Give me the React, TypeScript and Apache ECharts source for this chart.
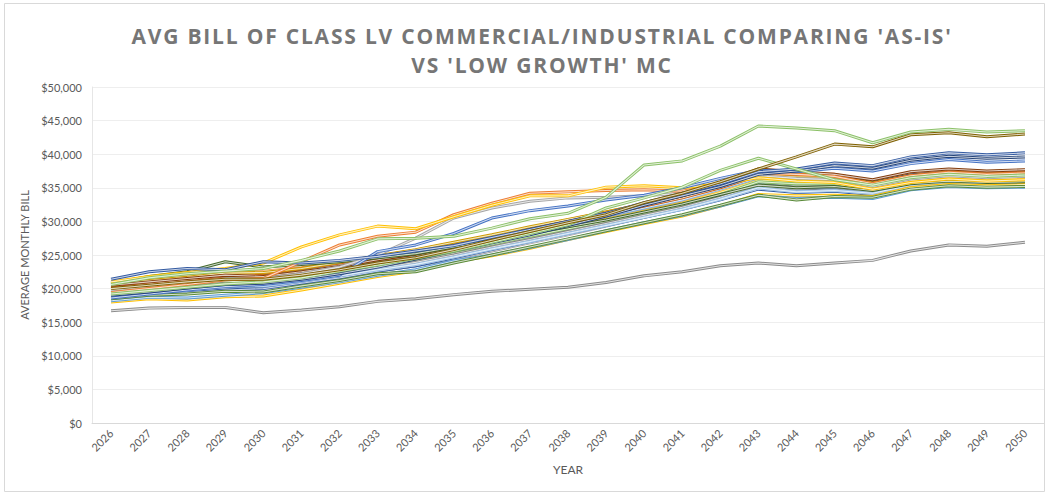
import React, { useEffect, useRef } from "react";
import * as echarts from "echarts";

// Years on the category axis
const years = [
  "2026", "2027", "2028", "2029", "2030", "2031", "2032", "2033", "2034", "2035",
  "2036", "2037", "2038", "2039", "2040", "2041", "2042", "2043", "2044", "2045",
  "2046", "2047", "2048", "2049", "2050",
];

// Monte Carlo runs, average monthly bill in $ thousands
const runLowGrey = [16.7, 17.1, 17.2, 17.2, 16.4, 16.8, 17.3, 18.1, 18.5, 19.1, 19.6, 19.9, 20.2, 20.9, 21.9, 22.5, 23.4, 23.8, 23.4, 23.8, 24.2, 25.6, 26.5, 26.3, 26.9];
const runGreenTop = [20.6, 21.6, 22.2, 22.6, 23.0, 24.2, 25.6, 27.4, 27.5, 27.8, 29.0, 30.4, 31.2, 33.6, 38.4, 39.0, 41.2, 44.2, 43.9, 43.5, 41.7, 43.3, 43.7, 43.3, 43.5];
const runBrown = [20.0, 20.5, 21.0, 21.4, 21.4, 22.0, 22.8, 23.8, 24.6, 25.8, 27.2, 28.5, 29.8, 31.0, 32.8, 34.2, 35.9, 37.8, 39.6, 41.5, 41.1, 42.9, 43.2, 42.6, 43.0];
const runYellowHigh = [21.0, 21.8, 22.4, 23.0, 23.8, 26.2, 28.0, 29.3, 28.9, 30.7, 32.4, 33.8, 33.8, 35.1, 35.3, 35.0, 35.6, 36.5, 36.0, 35.8, 34.8, 35.8, 36.3, 36.0, 36.2];
const runOrangeHigh = [19.4, 20.0, 20.6, 21.3, 21.5, 24.0, 26.5, 27.8, 28.4, 31.0, 32.7, 34.2, 34.4, 34.6, 34.7, 34.5, 35.4, 37.2, 37.0, 36.7, 35.6, 36.8, 37.3, 37.0, 37.2];
const runGreyHigh = [19.8, 20.3, 20.8, 21.4, 21.5, 22.2, 23.2, 25.0, 27.5, 30.5, 32.0, 33.0, 33.5, 33.6, 33.8, 34.2, 35.2, 36.8, 36.4, 36.2, 35.2, 36.3, 36.8, 36.5, 36.7];
const runBlueA = [21.4, 22.5, 23.0, 22.8, 24.0, 23.8, 24.2, 24.8, 25.6, 26.4, 27.6, 28.8, 30.0, 31.2, 32.8, 34.2, 35.6, 37.4, 37.8, 38.7, 38.3, 39.6, 40.2, 39.9, 40.2];
const runBlueB = [19.0, 19.5, 20.1, 20.6, 20.8, 21.4, 22.2, 23.2, 24.4, 25.6, 26.8, 28.0, 29.4, 30.8, 32.4, 33.8, 35.2, 37.0, 37.5, 38.3, 37.9, 39.1, 39.7, 39.4, 39.6];
const runBlueC = [18.6, 19.2, 19.8, 20.3, 20.6, 21.2, 22.0, 25.5, 26.5, 28.2, 30.5, 31.6, 32.3, 33.2, 33.9, 35.0, 36.4, 37.6, 37.4, 37.9, 37.5, 38.6, 39.2, 38.8, 39.0];
const runGreenPeak = [19.2, 19.7, 20.2, 20.7, 21.0, 21.6, 22.6, 23.5, 24.5, 25.6, 26.9, 28.2, 29.5, 32.0, 33.5, 35.1, 37.6, 39.4, 37.8, 36.2, 35.4, 36.5, 37.0, 36.7, 36.9];
const runDarkGreen = [20.8, 21.8, 22.5, 24.0, 23.2, 23.6, 24.0, 24.6, 25.2, 26.2, 27.2, 28.2, 29.2, 30.2, 31.4, 32.6, 34.0, 35.4, 35.0, 35.2, 34.6, 35.6, 36.0, 35.8, 35.9];
const runYellowLow = [18.0, 18.5, 18.3, 18.8, 18.9, 19.8, 20.8, 21.8, 22.6, 24.0, 24.9, 26.0, 27.3, 28.5, 29.7, 30.8, 32.3, 34.0, 33.8, 33.9, 33.7, 35.0, 35.5, 35.3, 35.5];
const runTealLow = [18.2, 18.7, 18.6, 19.0, 19.4, 20.2, 21.0, 22.0, 22.8, 24.1, 25.0, 26.1, 27.3, 28.6, 29.8, 30.9, 32.3, 33.8, 33.4, 33.6, 33.4, 34.7, 35.2, 35.0, 35.1];
const runGreenLow = [18.5, 19.0, 19.2, 19.6, 19.5, 20.4, 21.2, 22.2, 22.5, 23.8, 25.0, 26.2, 27.4, 28.6, 29.8, 31.0, 32.4, 33.9, 33.2, 33.7, 33.6, 34.8, 35.3, 35.1, 35.2];
const run01 = [19.5, 19.9, 20.4, 20.9, 20.2, 20.8, 21.6, 22.6, 23.4, 24.6, 25.9, 27.1, 28.3, 29.6, 30.9, 32.1, 33.7, 35.6, 35.2, 35.4, 34.5, 35.7, 36.2, 35.9, 36.1];
const run02 = [19.9, 20.4, 20.9, 21.5, 21.6, 22.2, 23.0, 24.2, 25.2, 26.4, 27.8, 29.0, 30.2, 31.4, 32.6, 33.8, 35.4, 37.4, 37.1, 37.0, 36.0, 37.2, 37.7, 37.4, 37.6];
const run03 = [18.8, 19.4, 20.0, 20.6, 21.0, 21.3, 21.8, 22.6, 23.4, 24.4, 25.6, 26.8, 28.0, 29.3, 30.6, 31.9, 33.5, 35.4, 35.2, 35.4, 34.5, 35.7, 36.1, 35.9, 36.0];
const run04 = [19.2, 19.6, 20.1, 20.7, 20.8, 21.4, 22.2, 23.0, 23.9, 25.0, 26.2, 27.4, 28.6, 29.8, 31.0, 32.2, 33.8, 35.8, 35.5, 35.6, 34.8, 35.9, 36.4, 36.1, 36.2];
const run05 = [20.2, 20.7, 21.2, 21.8, 21.9, 22.4, 23.2, 24.0, 24.9, 26.0, 27.2, 28.4, 29.6, 30.7, 31.9, 33.1, 34.7, 36.7, 36.3, 36.4, 35.5, 36.6, 37.1, 36.8, 37.0];
const run06 = [19.6, 20.1, 20.7, 21.2, 21.2, 21.9, 22.6, 23.5, 24.3, 25.4, 26.7, 27.9, 29.0, 30.2, 31.4, 32.6, 34.2, 36.2, 35.8, 36.0, 35.0, 36.2, 36.7, 36.4, 36.5];
const run07 = [20.4, 21.0, 21.6, 22.2, 22.0, 22.6, 23.4, 24.4, 25.3, 26.6, 27.8, 28.9, 30.0, 31.2, 32.4, 33.6, 35.1, 36.9, 36.6, 36.7, 35.8, 36.9, 37.3, 37.0, 37.2];
const run08 = [20.0, 20.5, 21.1, 21.6, 21.7, 22.3, 23.1, 24.0, 24.8, 25.9, 27.0, 28.1, 29.3, 30.5, 31.8, 33.0, 34.5, 36.4, 36.0, 36.2, 35.3, 36.4, 36.9, 36.6, 36.8];
const run09 = [18.9, 19.5, 20.0, 20.4, 20.3, 21.0, 21.8, 22.9, 23.8, 25.0, 26.2, 27.4, 28.5, 29.7, 30.9, 32.1, 33.5, 35.2, 34.8, 35.0, 34.2, 35.4, 35.9, 35.6, 35.8];
const run10 = [20.6, 21.1, 21.6, 22.1, 22.2, 22.9, 23.8, 24.8, 25.6, 26.6, 27.7, 28.8, 29.9, 31.0, 32.2, 33.4, 34.9, 36.6, 36.2, 36.3, 35.4, 36.5, 37.0, 36.7, 36.9];
const run11 = [19.7, 20.2, 20.7, 21.1, 21.4, 22.0, 22.9, 23.8, 24.6, 25.6, 26.8, 27.9, 29.0, 30.1, 31.3, 32.5, 34.0, 35.8, 35.5, 35.6, 34.7, 35.8, 36.3, 36.0, 36.1];
const run12 = [19.4, 19.9, 20.4, 20.9, 21.0, 21.7, 22.4, 23.3, 24.1, 25.2, 26.4, 27.5, 28.6, 29.8, 31.1, 32.3, 33.9, 35.7, 35.3, 35.4, 34.4, 35.5, 36.0, 35.7, 35.9];
const run13 = [19.3, 19.7, 20.2, 20.6, 20.9, 21.5, 22.3, 23.6, 24.6, 25.8, 27.0, 28.0, 29.1, 30.3, 31.5, 32.6, 34.0, 35.5, 35.0, 35.1, 34.2, 35.3, 35.8, 35.5, 35.7];
const run14 = [20.9, 21.5, 21.9, 22.4, 22.6, 23.1, 23.9, 24.7, 25.5, 26.6, 27.6, 28.6, 29.7, 30.8, 32.0, 33.2, 34.6, 36.3, 36.0, 36.1, 35.2, 36.3, 36.8, 36.5, 36.6];
const run15 = [19.1, 19.6, 20.2, 20.8, 20.6, 21.2, 22.0, 23.1, 24.0, 25.2, 26.5, 27.7, 28.9, 30.1, 31.3, 32.5, 34.1, 36.0, 35.7, 35.8, 34.9, 36.0, 36.5, 36.2, 36.4];
const run16 = [19.9, 20.4, 20.9, 21.4, 21.3, 22.0, 22.8, 23.7, 24.5, 25.6, 26.8, 28.0, 29.1, 30.3, 31.5, 32.7, 34.3, 36.1, 35.8, 35.9, 35.0, 36.1, 36.6, 36.3, 36.5];
const run17 = [20.3, 20.9, 21.4, 21.9, 21.8, 22.5, 23.5, 24.5, 25.4, 26.5, 27.6, 28.6, 29.7, 30.8, 32.0, 33.2, 34.8, 36.5, 36.2, 36.3, 35.4, 36.5, 37.0, 36.7, 36.9];
const run18 = [19.6, 20.0, 20.5, 21.0, 21.2, 21.8, 22.7, 23.6, 24.4, 25.5, 26.6, 27.8, 28.9, 30.0, 31.2, 32.4, 34.0, 35.9, 35.6, 35.6, 34.6, 35.7, 36.2, 35.9, 36.0];
const run19 = [18.7, 19.1, 19.4, 19.8, 20.0, 20.8, 21.6, 22.6, 23.4, 24.6, 25.8, 27.0, 28.2, 29.4, 30.6, 31.8, 33.2, 34.8, 34.3, 34.5, 34.0, 35.2, 35.7, 35.4, 35.6];
const run20 = [20.1, 20.7, 21.3, 21.9, 22.3, 23.0, 23.8, 24.8, 25.7, 26.8, 27.9, 29.0, 30.0, 31.1, 32.3, 33.5, 35.0, 36.8, 36.4, 36.5, 35.6, 36.7, 37.2, 36.9, 37.1];
const run21 = [19.3, 19.8, 20.3, 20.8, 20.5, 21.2, 22.0, 23.0, 23.9, 25.0, 26.2, 27.3, 28.5, 29.7, 30.9, 32.1, 33.6, 35.4, 35.1, 35.2, 34.3, 35.4, 35.9, 35.6, 35.8];
const run22 = [20.7, 21.2, 21.7, 22.3, 22.4, 23.0, 23.9, 24.9, 25.8, 26.9, 28.0, 29.2, 30.3, 31.4, 32.6, 33.8, 35.3, 37.0, 36.6, 36.6, 35.7, 36.8, 37.3, 37.0, 37.2];
const run23 = [18.9, 19.4, 19.8, 20.3, 20.4, 21.1, 21.9, 22.8, 23.6, 24.7, 25.9, 27.0, 28.2, 29.4, 30.6, 31.8, 33.3, 35.0, 34.4, 34.6, 34.2, 35.4, 35.9, 35.6, 35.8];
const run24 = [20.5, 21.0, 21.5, 22.0, 21.8, 22.5, 23.3, 24.3, 25.2, 26.3, 27.5, 28.8, 30.0, 31.2, 32.5, 33.8, 35.6, 37.8, 37.4, 37.0, 36.2, 37.4, 37.8, 37.5, 37.7];

const runs: { data: number[]; color: string }[] = [
  { data: run01, color: "#4472C4" },
  { data: run02, color: "#ED7D31" },
  { data: run03, color: "#A5A5A5" },
  { data: run04, color: "#FFC000" },
  { data: run05, color: "#5B9BD5" },
  { data: run06, color: "#70AD47" },
  { data: run07, color: "#264478" },
  { data: run08, color: "#9E480E" },
  { data: run09, color: "#636363" },
  { data: run10, color: "#997300" },
  { data: run11, color: "#255E91" },
  { data: run12, color: "#43682B" },
  { data: run13, color: "#698ED0" },
  { data: run14, color: "#F1975A" },
  { data: run15, color: "#B7B7B7" },
  { data: run16, color: "#FFCD33" },
  { data: run17, color: "#7CAFDD" },
  { data: run18, color: "#8CC168" },
  { data: run19, color: "#335AA1" },
  { data: run20, color: "#D26012" },
  { data: run21, color: "#848484" },
  { data: run22, color: "#CC9A00" },
  { data: run23, color: "#9DC3E6" },
  { data: run24, color: "#843C0C" },
  { data: runYellowLow, color: "#FFC000" },
  { data: runTealLow, color: "#5B9BD5" },
  { data: runGreenLow, color: "#5A8A39" },
  { data: runDarkGreen, color: "#43682B" },
  { data: runGreyHigh, color: "#A5A5A5" },
  { data: runOrangeHigh, color: "#ED7D31" },
  { data: runYellowHigh, color: "#FFC000" },
  { data: runBlueC, color: "#4472C4" },
  { data: runBlueB, color: "#264478" },
  { data: runBlueA, color: "#335AA1" },
  { data: runGreenPeak, color: "#8CC168" },
  { data: runBrown, color: "#7F6000" },
  { data: runGreenTop, color: "#8CC168" },
  { data: runLowGrey, color: "#8C8C8C" },
];

const yMin = 0;
const yMax = 50000;
const yStep = 5000;

const titleLine1 = "AVG BILL OF CLASS LV COMMERCIAL/INDUSTRIAL COMPARING 'AS-IS'";
const titleLine2 = "VS 'LOW GROWTH' MC";

export default function App() {
  const ref = useRef<HTMLDivElement>(null);
  useEffect(() => {
    if (!ref.current) return;
    const el = ref.current;
    const chart = echarts.init(el, null, { renderer: "svg" });
    const series: any[] = [];
    runs.forEach((r, i) => {
      const values = r.data.map((v) => Math.round(v * 1000));
      series.push({
        name: "Run " + (i + 1),
        type: "line",
        data: values,
        symbol: "none",
        silent: true,
        lineStyle: { width: 3, color: r.color },
        z: 2,
      });
      series.push({
        name: "Run " + (i + 1) + " inner",
        type: "line",
        data: values,
        symbol: "none",
        silent: true,
        lineStyle: { width: 1.1, color: "rgba(255,255,255,0.75)" },
        z: 2,
      });
    });
    const spaceTitle = () => {
      el.querySelectorAll("text").forEach((t) => {
        const s = (t.textContent || "").trim();
        if (s === titleLine1 || s === titleLine2) {
          (t as SVGTextElement).style.letterSpacing = "1.8px";
        }
      });
    };
    chart.on("finished", spaceTitle);
    chart.setOption({
      animation: false,
      backgroundColor: "#ffffff",
      title: {
        text: titleLine1 + "\n" + titleLine2,
        left: 537,
        textAlign: "center",
        top: 16,
        textStyle: {
          fontFamily: "Open Sans",
          fontWeight: "bold",
          fontSize: 21,
          lineHeight: 29,
          color: "#767676",
        },
      },
      graphic: [
        {
          type: "rect",
          shape: { x: 4.5, y: 3.5, width: 1040, height: 488 },
          style: { fill: "none", stroke: "#d9d9d9", lineWidth: 1 },
          silent: true,
        },
      ],
      grid: { left: 92, right: 5, top: 87, bottom: 71, containLabel: false },
      xAxis: {
        type: "category",
        data: years,
        boundaryGap: true,
        name: "YEAR",
        nameLocation: "middle",
        nameGap: 40,
        nameTextStyle: { fontFamily: "Lato", fontSize: 12, color: "#595959" },
        axisLine: { lineStyle: { color: "#d9d9d9" } },
        axisTick: { show: false },
        axisLabel: {
          rotate: 45,
          fontFamily: "Lato",
          fontSize: 11,
          color: "#595959",
          margin: 8,
        },
      },
      yAxis: {
        type: "value",
        min: yMin,
        max: yMax,
        interval: yStep,
        name: "AVERAGE MONTHLY BILL",
        nameLocation: "middle",
        nameGap: 58,
        nameTextStyle: { fontFamily: "Lato", fontSize: 11, color: "#595959" },
        axisLine: { show: true, lineStyle: { color: "#e6e6e6" } },
        axisTick: { show: false },
        splitLine: { lineStyle: { color: "#eeeeee" } },
        axisLabel: {
          fontFamily: "Lato",
          fontSize: 11,
          color: "#595959",
          margin: 10,
          formatter: (v: number) => "$" + v.toLocaleString("en-US"),
        },
      },
      series,
    });
    spaceTitle();
    const timer = setTimeout(spaceTitle, 50);
    return () => {
      clearTimeout(timer);
      chart.dispose();
    };
  }, []);
  return (
    <div
      ref={ref}
      style={{ position: "fixed", left: 0, top: 0, width: 1049, height: 494 }}
    />
  );
}
